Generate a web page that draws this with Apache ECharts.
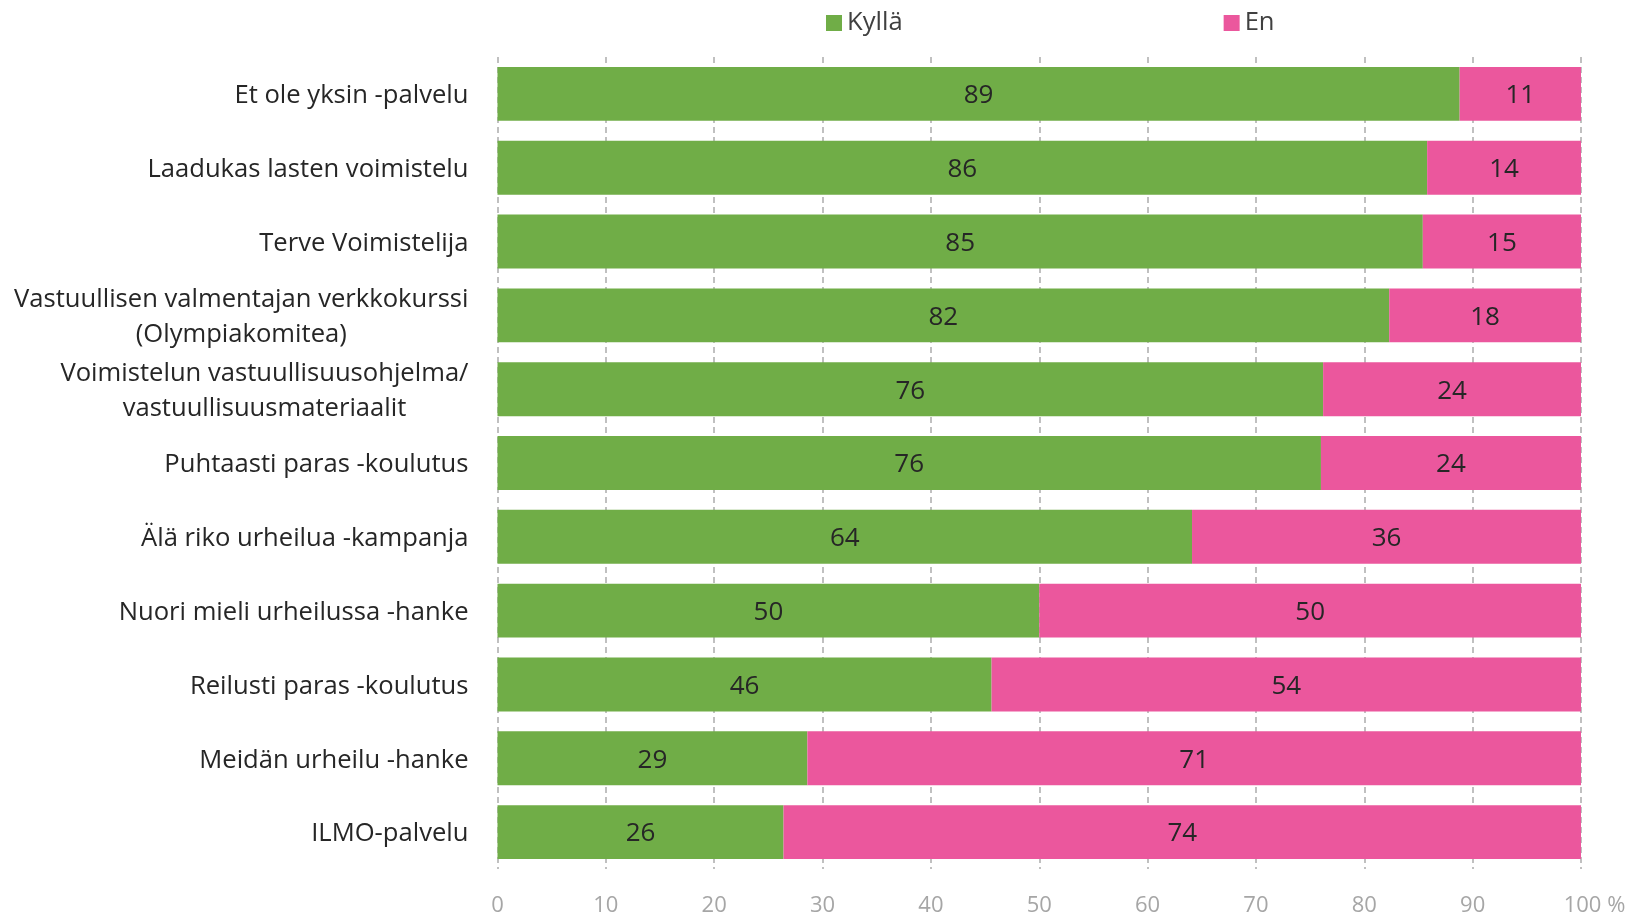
<!DOCTYPE html>
<html>
<head>
<meta charset="utf-8">
<title>Kyllä / En</title>
<script src="https://cdn.jsdelivr.net/npm/echarts@6/dist/echarts.min.js"></script>
<style>
  html, body { margin: 0; padding: 0; background: #fff; }
  #chart { width: 1635px; height: 918px; }
</style>
</head>
<body>
<div id="chart"></div>
<script>
// categories, top to bottom
const categories = [
  'Et ole yksin -palvelu',
  'Laadukas lasten voimistelu',
  'Terve Voimistelija',
  'Vastuullisen valmentajan verkkokurssi\n(Olympiakomitea)',
  'Voimistelun vastuullisuusohjelma/\nvastuullisuusmateriaalit',
  'Puhtaasti paras -koulutus',
  'Älä riko urheilua -kampanja',
  'Nuori mieli urheilussa -hanke',
  'Reilusti paras -koulutus',
  'Meidän urheilu -hanke',
  'ILMO-palvelu'
];
const kylla = [88.8, 85.8, 85.4, 82.3, 76.2, 76.0, 64.1, 50.0, 45.6, 28.6, 26.4];
const en = [11.2, 14.2, 14.6, 17.7, 23.8, 24.0, 35.9, 50.0, 54.4, 71.4, 73.6];
const seriesNames = ['Kyllä', 'En'];
const xTicks = [0, 10, 20, 30, 40, 50, 60, 70, 80, 90, 100];

const font = 'Open Sans';
const green = '#70ad47';
const pink = '#eb579d';

const myChart = echarts.init(document.getElementById('chart'));

const dataLabel = {
  show: true,
  position: 'inside',
  offset: [0, 2],
  color: '#262626',
  fontFamily: font,
  fontSize: 26,
  formatter: p => Math.round(p.value)
};

myChart.setOption({
  animation: false,
  legend: {
    data: seriesNames,
    left: 821,
    top: 5,
    icon: 'rect',
    itemWidth: 16,
    itemHeight: 16,
    itemGap: 321,
    textStyle: { fontFamily: font, fontSize: 25.6, color: '#404040' }
  },
  grid: { left: 497.5, right: 54, top: 57, bottom: 49 },
  xAxis: {
    type: 'value',
    min: xTicks[0],
    max: xTicks[xTicks.length - 1],
    interval: 10,
    axisLine: { show: false },
    axisTick: { show: false },
    splitLine: {
      show: true,
      lineStyle: { color: '#c0c0c0', width: 2, type: [6, 4] }
    },
    axisLabel: {
      margin: 26,
      color: '#a6a6a6',
      fontFamily: font,
      fontSize: 22,
      formatter: v => v === 100 ? '{pad|}{n|100} %' : String(v),
      rich: {
        pad: { width: 27 },
        n: { color: '#a6a6a6', fontFamily: font, fontSize: 22 }
      }
    }
  },
  yAxis: {
    type: 'category',
    inverse: true,
    data: categories,
    axisLine: { show: false },
    axisTick: { show: false },
    axisLabel: {
      margin: 29,
      align: 'right',
      padding: [4, 0, 0, 0],
      formatter: v => v.split('\n').map(s => '{c|' + s + '}').join('\n'),
      rich: {
        c: {
          fontFamily: font,
          fontSize: 25.6,
          color: '#262626',
          align: 'center',
          lineHeight: 35
        }
      }
    }
  },
  series: [
    {
      name: seriesNames[0],
      type: 'bar',
      stack: 'total',
      barCategoryGap: '27%',
      itemStyle: { color: green },
      label: dataLabel,
      data: kylla
    },
    {
      name: seriesNames[1],
      type: 'bar',
      stack: 'total',
      barCategoryGap: '27%',
      itemStyle: { color: pink },
      label: dataLabel,
      data: en
    }
  ]
});
</script>
</body>
</html>
